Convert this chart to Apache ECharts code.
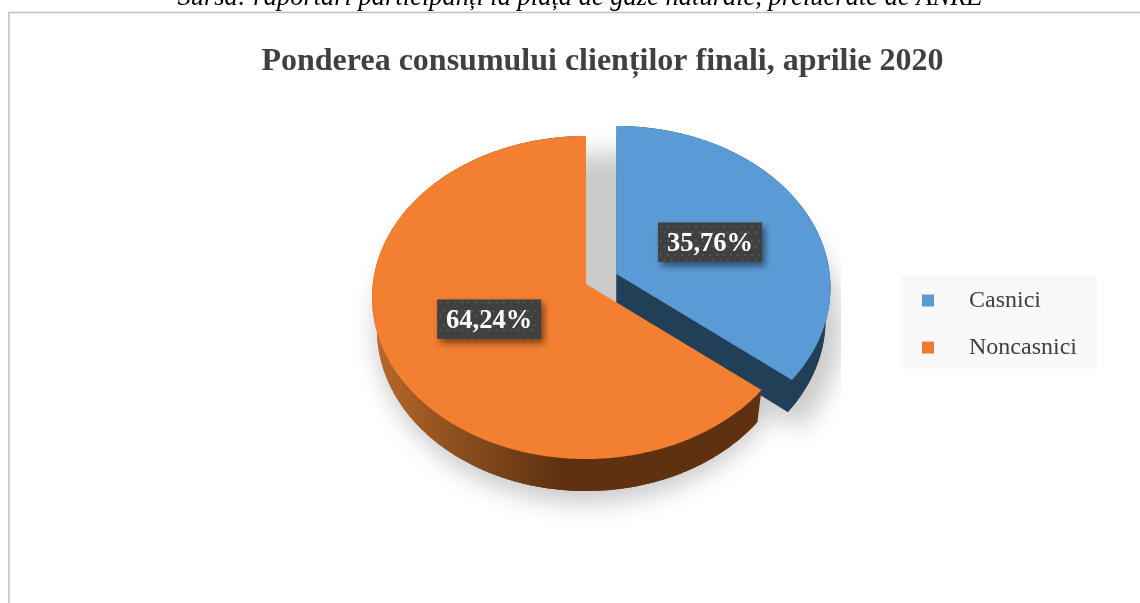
<!DOCTYPE html>
<html><head><meta charset="utf-8">
<style>html,body{margin:0;padding:0;background:#fff}#c{width:1140px;height:603px}</style>
<script src="https://cdn.jsdelivr.net/npm/echarts@6/dist/echarts.min.js"></script>
</head><body><div id="c"></div>
<script>
// Data
const categories = ['Casnici', 'Noncasnici'];
const shares = [35.76, 64.24];
const sliceColors = ['#5B9BD5', '#F37F31'];
const legendColors = ['#5B9BD5', '#ED7D31'];

// Layout of the tilted pie
const RX = 213.2, RY = 160.4, TILT = 0.0836, DEPTH = 32, FLOOR_X = 0.977;
const APEX = [[616.5, 274], [586, 284]];
const LABEL_NUDGE = [[1, 1.5], [-1, 0.5]];
const total = shares.reduce((a, b) => a + b, 0);
const TAU = Math.PI * 2;

function project(apex, r, a) {
  const u = r * Math.sin(a), v = -r * Math.cos(a), d = 1 - TILT * v;
  return [apex[0] + RX * u / d, apex[1] + RY * v / d];
}
function sliceRange(i) {
  let start = 0;
  for (let k = 0; k < i; k++) start += shares[k] / total * TAU;
  return [start, start + shares[i] / total * TAU];
}
function arc(apex, a0, a1) {
  const pts = [], n = Math.max(8, Math.ceil((a1 - a0) / 0.01));
  for (let k = 0; k <= n; k++) pts.push(project(apex, 1, a0 + (a1 - a0) * k / n));
  return pts;
}
function drop(p, apex) { return [apex[0] + (p[0] - apex[0]) * FLOOR_X, p[1] + DEPTH]; }

const dotCanvas = document.createElement('canvas');
dotCanvas.width = 14; dotCanvas.height = 14;
(function () {
  const g = dotCanvas.getContext('2d');
  g.fillStyle = '#404040'; g.fillRect(0, 0, 14, 14);
  g.fillStyle = '#535353';
  [[3, 3], [10, 3], [6.5, 8.5], [0, 8.5], [13, 8.5]].forEach(p => g.fillRect(p[0] - 1, p[1] - 1, 2, 2));
})();

function wallFill(i) {
  if (i === 0) return '#223F58';
  return new echarts.graphic.LinearGradient(377, 0, 560, 0, [
    { offset: 0, color: '#B9682A' },
    { offset: 0.45, color: '#8A4E1E' },
    { offset: 1, color: '#5F3111' }
  ], true);
}

function renderSlice(params, api) {
  const i = params.seriesIndex - 1;
  const apex = APEX[i];
  const [a0, a1] = sliceRange(i);
  const rim = arc(apex, a0, a1);
  const floor = rim.map(p => drop(p, apex));
  const outline = [apex].concat(rim);
  const children = [];
  children.push({ type: 'polygon', shape: { points: [drop(apex, apex)].concat(floor) }, style: { fill: wallFill(i) } });
  children.push({ type: 'polygon', shape: { points: rim.concat(floor.slice().reverse()) }, style: { fill: wallFill(i) } });
  children.push({ type: 'polygon', shape: { points: [apex, rim[rim.length - 1], floor[floor.length - 1], drop(apex, apex)] }, style: { fill: wallFill(i) } });
  children.push({ type: 'polygon', shape: { points: outline }, style: { fill: sliceColors[i] } });
  const m = project(apex, 0.49, (a0 + a1) / 2);
  const c = [m[0] + LABEL_NUDGE[i][0], m[1] + LABEL_NUDGE[i][1]];
  children.push({ type: 'rect', shape: { x: c[0] - 52, y: c[1] - 19.5, width: 104, height: 39.5 },
    style: { fill: { image: dotCanvas, repeat: 'repeat' }, shadowBlur: 7, shadowOffsetX: 3, shadowOffsetY: 4, shadowColor: 'rgba(0,0,0,0.5)' } });
  children.push({ type: 'text', x: c[0], y: c[1] + 2.5, style: {
    text: api.value(0).toFixed(2).replace('.', ',') + '%', fill: '#fff',
    font: 'bold 26.5px "Liberation Serif"', align: 'center', verticalAlign: 'middle' } });
  return { type: 'group', children };
}

// Soft ground shadow: only the blurred shadow of an off-canvas shape is seen
function renderBackdrop() {
  const FAR = 3000, SY = 1.08;
  const style = { fill: '#cdcdcd', shadowBlur: 24, shadowColor: '#cbcbcb', shadowOffsetX: FAR };
  const place = (apex, sx, lift) => p => [apex[0] + (p[0] - apex[0]) * sx - FAR, apex[1] + (p[1] - apex[1]) * SY + lift];
  const body = APEX[1], wedge = APEX[0];
  const [b0, b1] = sliceRange(0);
  const children = [
    { type: 'polygon', shape: { points: arc(body, 0, TAU).map(place(body, 0.985, 30)) }, style },
    { type: 'polygon', shape: { points: [wedge].concat(arc(wedge, b0, b1)).map(place(wedge, 1.05, 40)) }, style },
    { type: 'rect', shape: { x: 841, y: 250, width: 50, height: 220 }, style: { fill: '#fff' } }
  ];
  return { type: 'group', children };
}

const series = [{ type: 'custom', name: 'backdrop', coordinateSystem: 'none', silent: true, data: [[0]], renderItem: renderBackdrop, z: 1 }]
  .concat(categories.map((name, i) => ({
    type: 'custom', name, coordinateSystem: 'none', data: [[shares[i]]], renderItem: renderSlice,
    itemStyle: { color: legendColors[i] }, z: 2 + i
  })));

const chart = echarts.init(document.getElementById('c'), null, { renderer: 'canvas' });
chart.setOption({
  animation: false,
  backgroundColor: '#fff',
  title: {
    text: 'Ponderea consumului clienților finali, aprilie 2020',
    left: 602.5, top: 46, textAlign: 'center', padding: 0,
    textStyle: { fontFamily: 'Liberation Serif', fontWeight: 'bold', fontSize: 32, color: '#404040' }
  },
  legend: {
    orient: 'vertical', left: 901, top: 276, padding: [12, 20, 9, 21], width: 155,
    backgroundColor: '#F9F9F9', itemWidth: 12, itemHeight: 12, itemGap: 22, icon: 'rect',
    selectedMode: false,
    data: categories.map((name, i) => ({ name, itemStyle: { color: legendColors[i] } })),
    textStyle: { fontFamily: 'Liberation Serif', fontSize: 24, color: '#404040', padding: [1, 0, 0, 30], lineHeight: 24 }
  },
  graphic: [
    { type: 'text', x: 580, y: 12, silent: true, style: {
      text: 'Sursa: raportări participanți la piața de gaze naturale, prelucrate de ANRE',
      font: 'italic 26.5px "Liberation Serif"', fill: '#000', align: 'center', verticalAlign: 'bottom' } },
    { type: 'rect', silent: true, shape: { x: 9, y: 12.5, width: 1200, height: 700 },
      style: { fill: 'none', stroke: '#BFBFBF', lineWidth: 1.5 } }
  ],
  series
});
</script></body></html>
